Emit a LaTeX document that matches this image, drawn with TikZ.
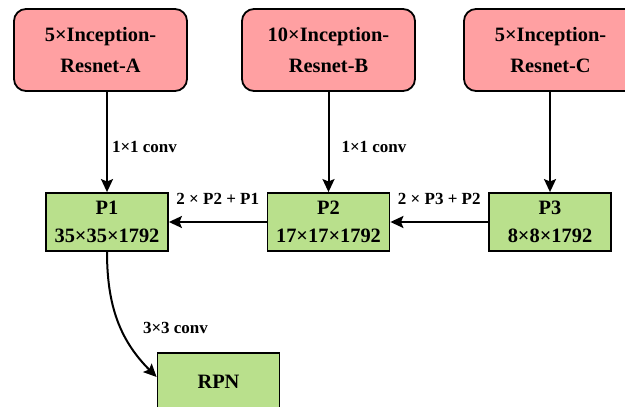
\documentclass[tikz,border=0pt]{standalone}
\usepackage{fontspec}
\setmainfont{Liberation Serif}
\usepackage{xcolor}
\usetikzlibrary{arrows.meta}

\definecolor{blockred}{RGB}{255,160,162}
\definecolor{featgreen}{RGB}{185,224,140}

\tikzset{
  block/.style={draw=black, line width=0.9pt, fill=blockred, rounded corners=6pt,
    minimum width=86.5pt, minimum height=41pt, align=center,
    font=\fontsize{10.2}{15.5}\selectfont\bfseries},
  feat/.style={draw=black, line width=0.9pt, fill=featgreen,
    minimum width=61pt, minimum height=29pt, align=center, inner sep=1pt,
    font=\fontsize{10.2}{14}\selectfont\bfseries},
  arr/.style={line width=1pt, -{Stealth[length=6.5pt, width=6pt, inset=1.2pt]}},
  lbl/.style={font=\fontsize{8.5}{10}\selectfont\bfseries, inner sep=0pt}
}

\begin{document}
\begin{tikzpicture}[x=0.5pt, y=-0.5pt]
  \useasboundingbox (0,0) rectangle (625,406);

  \node[block] (incA) at (100.5,50) {5×Inception-\\Resnet-A};
  \node[block] (incB) at (328.5,50) {10×Inception-\\Resnet-B};
  \node[block] (incC) at (550.5,50) {5×Inception-\\Resnet-C};

  \node[feat] (p1) at (107,222) {P1\\35×35×1792};
  \node[feat] (p2) at (328.5,222) {P2\\17×17×1792};
  \node[feat] (p3) at (550,222) {P3\\8×8×1792};

  \node[feat] (rpn) at (218.5,382) {RPN};

  \draw[arr] (p1.north |- incA.south) -- (p1.north)
    node[lbl, anchor=west, pos=0.55, xshift=2pt] {1×1 conv};
  \draw[arr] (p2.north |- incB.south) -- (p2.north)
    node[lbl, anchor=west, pos=0.55, xshift=6pt] {1×1 conv};
  \draw[arr] (p3.north |- incC.south) -- (p3.north);

  \draw[arr] (p2) -- (p1) node[lbl, midway, above=8pt] {2 × P2 + P1};
  \draw[arr] (p3) -- (p2) node[lbl, midway, above=8pt] {2 × P3 + P2};

  \draw[arr] (p1.south) to[out=-90, in=135] ([yshift=2.5pt]rpn.west)
    node[lbl, anchor=west] at (142,328) {3×3 conv};
\end{tikzpicture}
\end{document}
